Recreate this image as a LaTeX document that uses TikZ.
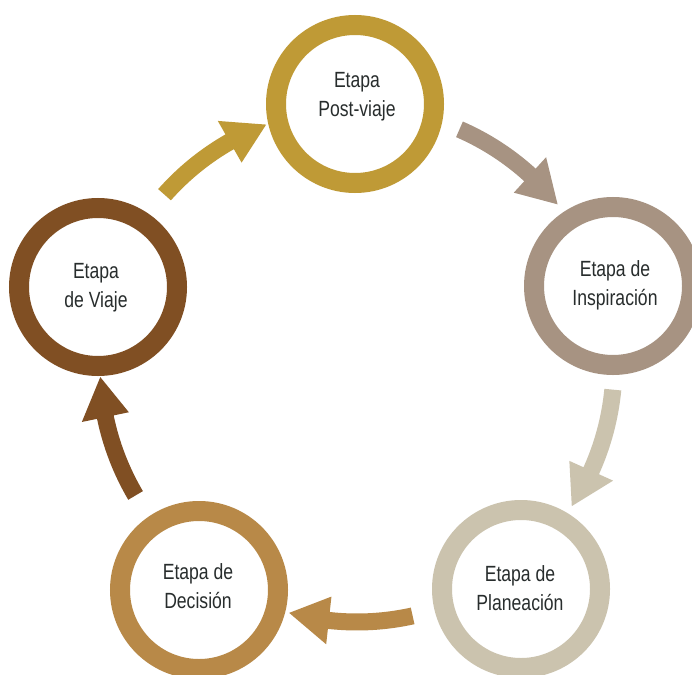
\documentclass[tikz,border=0pt]{standalone}
\usepackage{fontspec}
\setmainfont{Liberation Sans}[FakeStretch=0.8]
\definecolor{postc}{RGB}{191,154,54}
\definecolor{inspc}{RGB}{167,147,130}
\definecolor{planc}{RGB}{203,195,174}
\definecolor{decc}{RGB}{184,137,72}
\definecolor{viajec}{RGB}{128,79,35}
\definecolor{txtc}{RGB}{40,45,45}
\newcommand{\cyclearrow}[2]{%
  \fill[#2] ({221.5+#1}:248.5) arc[start angle={221.5+#1}, end angle={240.3+#1}, radius=248.5]
    -- ({240.3+#1}:233) -- ({249.3+#1}:257) -- ({240.3+#1}:281) -- ({240.3+#1}:265.5)
    arc[start angle={240.3+#1}, end angle={221.5+#1}, radius=265.5] -- cycle;}
\begin{document}
\begin{tikzpicture}[x=1pt,y=-1pt,
  ring/.style={circle, line width=20pt, minimum size=158pt, inner sep=0pt, fill=white},
  stagetext/.style={align=center, text=txtc, font=\fontsize{22}{29}\selectfont, inner sep=0pt}]
\useasboundingbox (0,0) rectangle (692,674);
\clip (0,0) rectangle (692,674);
\fill[white] (0,0) rectangle (692,674);
% arrows
\begin{scope}[shift={(357,365)}]
  \cyclearrow{0}{postc}
  \cyclearrow{72}{inspc}
  \cyclearrow{144}{planc}
  \cyclearrow{216}{decc}
  \cyclearrow{288}{viajec}
\end{scope}
% stage rings
\node[ring, draw=postc] (P) at (355,104) {};
\node[ring, draw=inspc] (I) at (613,286) {};
\node[ring, draw=planc] (L) at (521,589) {};
\node[ring, draw=decc] (D) at (199,590) {};
\node[ring, draw=viajec] (V) at (98,287) {};
% labels
\node[stagetext] (Pt) at (357,97) {Etapa\\Post-viaje};
\node[stagetext] (It) at (615,285) {Etapa de\\Inspiración};
\node[stagetext] (Lt) at (520,588) {Etapa de\\Planeación};
\node[stagetext] (Dt) at (198,586) {Etapa de\\Decisión};
\node[stagetext] (Vt) at (96,288) {Etapa\\de Viaje};
\end{tikzpicture}
\end{document}
